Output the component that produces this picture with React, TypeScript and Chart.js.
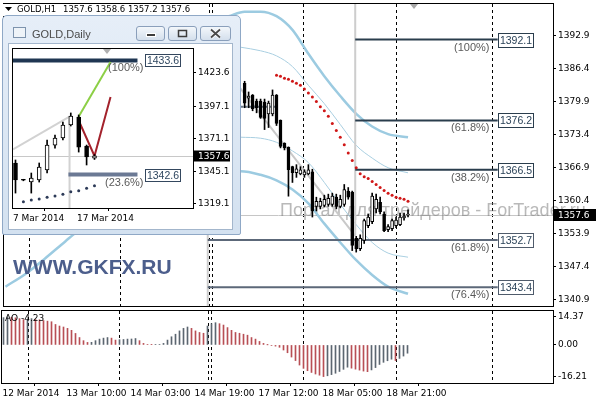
import React, { useEffect, useRef } from "react";
import { Chart, registerables } from "chart.js";

Chart.register(...registerables);

const AXIS_FONT = '"DejaVu Sans", "Liberation Sans", sans-serif';
const SANS = '"Liberation Sans", Arial, sans-serif';

// ================= GOLD,H1 main panel =================
const H1_TITLE = "GOLD,H1";
const H1_OHLC_TEXT = "1357.6 1358.6 1357.2 1357.6";
const LAST_PRICE = 1357.6;
const WATERMARK = "Портал для трейдеров - ForTrader.ru";
const BRAND = "WWW.GKFX.RU";

const H1_IDX = [60, 61, 62, 63, 64, 65, 66, 67, 68, 69, 70, 71, 72, 73, 74, 75, 76, 77, 78, 79, 80, 81, 82, 83, 84, 85, 86, 87, 88, 89, 90, 91, 92, 93, 94, 95, 96, 97, 98, 99, 100, 101];
const H1_OPEN = [1383.5, 1380.6, 1381.2, 1380.0, 1380.0, 1379.8, 1377.5, 1377.5, 1381.2, 1376.2, 1371.7, 1370.9, 1367.1, 1365.9, 1365.7, 1365.5, 1365.7, 1366.1, 1359.3, 1359.3, 1359.5, 1359.7, 1359.7, 1361.1, 1359.3, 1359.7, 1362.3, 1362.1, 1353.0, 1351.0, 1352.6, 1355.5, 1356.3, 1358.8, 1360.1, 1357.8, 1354.7, 1354.9, 1355.5, 1355.7, 1357.0, 1357.6];
const H1_HIGH = [1383.9, 1381.8, 1381.3, 1380.4, 1380.4, 1380.4, 1380.0, 1382.2, 1381.3, 1376.3, 1371.8, 1371.0, 1367.2, 1367.5, 1367.1, 1366.5, 1367.5, 1366.6, 1361.1, 1360.9, 1361.5, 1361.7, 1361.9, 1361.7, 1361.5, 1363.6, 1363.0, 1362.3, 1353.4, 1353.7, 1356.8, 1357.8, 1361.9, 1361.7, 1361.1, 1358.2, 1355.7, 1356.8, 1357.2, 1358.0, 1358.0, 1358.6];
const H1_LOW = [1378.7, 1378.7, 1378.1, 1377.7, 1376.6, 1374.4, 1374.8, 1377.1, 1375.2, 1370.8, 1370.4, 1361.3, 1364.0, 1365.0, 1365.5, 1365.0, 1365.5, 1357.2, 1358.4, 1358.8, 1359.2, 1359.3, 1359.3, 1358.8, 1359.0, 1359.3, 1360.7, 1350.6, 1350.3, 1350.6, 1352.0, 1355.1, 1355.9, 1358.0, 1357.8, 1354.3, 1354.3, 1354.5, 1355.1, 1355.5, 1356.6, 1357.2];
const H1_CLOSE = [1379.6, 1381.0, 1378.5, 1378.7, 1376.8, 1376.6, 1379.6, 1381.2, 1375.6, 1371.1, 1370.8, 1366.5, 1365.9, 1366.7, 1366.5, 1366.1, 1366.5, 1358.4, 1360.3, 1360.3, 1360.7, 1360.9, 1361.3, 1359.3, 1360.7, 1362.6, 1361.1, 1351.6, 1351.0, 1353.0, 1356.5, 1357.2, 1361.3, 1360.7, 1358.2, 1354.5, 1355.3, 1356.5, 1356.6, 1357.2, 1357.4, 1357.6];

// Bollinger-style bands (outer = thick, inner = thin)
const UP_OUTER_IDX = [56, 60, 64, 68, 72, 76, 80, 84, 88, 92, 96, 101];
const UP_OUTER = [1396.7, 1397.6, 1397.6, 1396.7, 1394.0, 1389.3, 1384.9, 1381.0, 1377.5, 1375.0, 1373.5, 1372.9];
const LO_OUTER_IDX = [0, 5, 10, 15, 18, 59, 64, 68, 72, 76, 80, 84, 88, 92, 96, 101];
const LO_OUTER = [1343.5, 1346.0, 1349.1, 1352.4, 1354.3, 1366.2, 1365.5, 1364.4, 1362.6, 1359.9, 1355.9, 1352.2, 1348.7, 1345.8, 1343.5, 1342.1];
const INNER_IDX = [59, 64, 68, 72, 76, 80, 84, 88, 92, 96, 101];
const UP_INNER = [1390.6, 1389.9, 1388.9, 1386.8, 1383.1, 1379.5, 1375.4, 1371.3, 1368.8, 1366.9, 1365.9];
const LO_INNER = [1372.9, 1372.7, 1371.9, 1370.2, 1367.9, 1364.0, 1359.7, 1355.7, 1352.2, 1350.1, 1349.3];

// red dotted indicator
const RED_DOT_IDX = [68, 69, 70, 71, 72, 73, 74, 75, 76, 77, 78, 79, 80, 81, 82, 83, 84, 85, 86, 87, 88, 89, 90, 91, 92, 93, 94, 95, 96, 97, 98, 99, 100, 101];
const RED_DOTS = [1385.1, 1384.9, 1384.5, 1384.3, 1383.9, 1383.5, 1383.1, 1382.4, 1381.6, 1380.8, 1379.9, 1378.9, 1378.1, 1377.0, 1375.6, 1374.2, 1372.9, 1371.4, 1369.8, 1368.3, 1366.9, 1365.7, 1365.1, 1364.8, 1364.2, 1363.6, 1363.0, 1362.4, 1361.9, 1361.5, 1361.1, 1360.9, 1360.7, 1360.3];

// Fibonacci levels
const FIB_UPPER = [1392.1, 1376.2, 1366.5];
const FIB_UPPER_PCT = ["(100%)", "(61.8%)", "(38.2%)"];
const FIB_UPPER_START = 87.75;
const FIB_LOWER = [1352.7, 1343.4];
const FIB_LOWER_PCT = ["(61.8%)", "(76.4%)"];
const FIB_LOWER_START = 50.75;
const FIB_END = 123.5;
const FIB_TREND_IDX = [49.4, 87.75];
const FIB_TREND = [1392.1, 1353.5];
const ANCHOR_UPPER_IDX = 87.75;
const ANCHOR_UPPER = [1399.1, 1353.5];
const ANCHOR_LOWER_IDX = 50.75;
const ANCHOR_LOWER = [1366.0, 1339.7];
const SLATE_SEG_IDX = [59, 68];
const SLATE_SEG = 1378.9;

const SEPARATORS = [6, 28.75, 51, 51.75, 74.75, 98, 122];
const SHIFT_MARK = 102.5;

const PRICE_MIN = 1339.7;
const PRICE_MAX = 1399.1;
const PRICE_TICKS = [1340.9, 1347.4, 1353.9, 1360.4, 1366.9, 1373.4, 1379.9, 1386.4, 1392.9];

const X_MIN = -0.375;
const X_MAX = 137.375;
const X_TICK_POS = [-0.25, 15.75, 31.75, 47.75, 63.75, 79.75, 95.75];
const X_TICK_LABELS = ["12 Mar 2014", "13 Mar 10:00", "14 Mar 03:00", "14 Mar 19:00", "17 Mar 12:00", "18 Mar 05:00", "18 Mar 21:00"];

// ================= AO panel =================
const AO_LABEL = "AO -4.23";
const AO_VALUES = [
  14.0, 14.37, 14.2, 13.9, 13.5, 13.0, 13.1, 13.5, 13.0, 12.9,
  12.5, 12.2, 11.9, 10.5, 9.7, 9.2, 8.5, 7.5, 5.9, 3.8,
  2.2, 1.3, 1.35, 2.2, 3.0, 3.5, 3.8, 3.5, 2.5, 2.7,
  2.8, 3.0, 3.05, 3.3, 2.2, 0.8, 0.2, 0.15, 0.2, 0.3,
  0.8, 2.5, 4.2, 5.5, 7.2, 8.5, 9.2, 8.5, 7.2, 6.4,
  6.0, 9.7, 10.9, 11.4, 10.9, 10.2, 8.9, 7.5, 6.4, 6.0,
  5.5, 5.0, 3.8, 3.0, 1.8, 0.8, 0.05, -0.3, -0.6, -1.2,
  -2.6, -4.0, -6.2, -8.0, -10.3, -12.0, -13.2, -14.1, -14.9, -15.5,
  -16.21, -15.8, -15.2, -14.5, -13.6, -12.5, -11.4, -11.9, -12.4, -12.9,
  -13.4, -13.7, -12.8, -11.6, -10.0, -8.9, -8.1, -7.3, -8.0, -6.9,
  -5.7, -4.23,
];
const AO_MIN = -19.5;
const AO_MAX = 17.4;
const AO_TICKS = [-16.21, 0, 14.37];

// ================= GOLD,Daily inset =================
const D_TITLE = "GOLD,Daily";
const D_IDX = [0, 1, 2, 3, 4, 5, 6, 7, 8, 9, 10];
const D_OPEN = [1351.8, 1338.4, 1336.6, 1338.2, 1346.2, 1366.1, 1371.7, 1382.1, 1388.5, 1365.3, 1355.6];
const D_HIGH = [1354.2, 1338.8, 1343.8, 1351.8, 1370.1, 1374.1, 1384.5, 1391.7, 1390.1, 1366.1, 1358.6];
const D_LOW = [1327.8, 1337.6, 1327.8, 1336.6, 1343.8, 1363.7, 1370.1, 1381.3, 1360.5, 1350.2, 1354.6];
const D_CLOSE = [1338.2, 1338.0, 1339.8, 1348.6, 1366.1, 1371.7, 1382.1, 1389.3, 1364.5, 1356.6, 1357.6];
const D_DOT_IDX = [1, 2, 3, 4, 5, 6, 7, 8, 9, 10];
const D_DOTS = [1320.9, 1322.2, 1323.0, 1324.4, 1325.4, 1326.8, 1328.9, 1329.7, 1331.6, 1333.7];
const D_FIB = [1433.6, 1342.6];
const D_FIB_PCT = ["(100%)", "(23.6%)"];
const D_FIB_START = [-0.316, 6.7];
const D_FIB_END = 15.44;
const D_ANCHOR_IDX = 6.84;
const D_ANCHOR = [1388.7, 1315.9];
const D_TREND_IDX = [-0.316, 6.84];
const D_TREND = [1362.7, 1388.7];
const D_GREEN_IDX = [7.97, 12.03];
const D_GREEN = [1388.5, 1432.3];
const D_RED_IDX = [7.97, 10, 12.03];
const D_RED = [1386.1, 1357.4, 1404.4];
const D_SHIFT_MARK = 11.6;
const D_MIN = 1315.9;
const D_MAX = 1442.7;
const D_TICKS = [1319.1, 1345.1, 1371.1, 1397.1, 1423.6];
const D_X_MIN = -0.316;
const D_X_MAX = 22.469;
const D_TICK_POS = [-0.316, 7.78];
const D_TICK_LABELS = ["7 Mar 2014", "17 Mar 2014"];

// ================= helpers =================
const pts = (xs: number[], ys: number[]) => xs.map((x, k) => ({ x, y: ys[k] }));
const line = (data: any[], color: string, width: number, order: number, extra: any = {}) => ({
  type: "line",
  data,
  borderColor: color,
  borderWidth: width,
  pointRadius: 0,
  fill: false,
  order,
  ...extra,
});

function drawFibLabels(ctx: any, xs: any, ys: any, levels: number[], pcts: string[], endIdx: number, o: any) {
  const bx = Math.round(xs.getPixelForValue(endIdx)) + o.gap + 0.5;
  levels.forEach((v, k) => {
    const py = Math.round(ys.getPixelForValue(v));
    const top = py - Math.floor(o.h / 2) + 0.5;
    ctx.fillStyle = "#ffffff";
    ctx.fillRect(bx, top, o.w, o.h);
    ctx.strokeStyle = o.boxColor;
    ctx.lineWidth = 1;
    ctx.strokeRect(bx, top, o.w, o.h);
    ctx.fillStyle = o.textColor;
    ctx.font = o.font;
    ctx.textAlign = "center";
    ctx.textBaseline = "middle";
    ctx.fillText(v.toFixed(1), bx + o.w / 2, top + o.h / 2 + 0.5);
    ctx.fillStyle = "#5a5a5a";
    ctx.font = o.pctFont;
    ctx.textAlign = "right";
    ctx.fillText(pcts[k], bx - o.pctGap, py + o.pctDy);
  });
}

function priceTag(ctx: any, a: any, ys: any, value: number, w: number, h: number) {
  const py = Math.round(ys.getPixelForValue(value));
  ctx.fillStyle = "#000";
  ctx.fillRect(a.right + 1, py - h / 2, w, h);
  ctx.fillStyle = "#fff";
  ctx.font = `9px ${AXIS_FONT}`;
  ctx.textAlign = "left";
  ctx.textBaseline = "middle";
  ctx.fillText(value.toFixed(1), a.right + 5, py + 0.5);
}

function shiftTriangle(ctx: any, px: number, top: number, color: string) {
  ctx.fillStyle = color;
  ctx.beginPath();
  ctx.moveTo(px - 4, top);
  ctx.lineTo(px + 4, top);
  ctx.lineTo(px, top + 5);
  ctx.closePath();
  ctx.fill();
}

function separators(chart: any) {
  const { ctx, chartArea: a, scales } = chart;
  ctx.save();
  ctx.strokeStyle = "#000";
  ctx.lineWidth = 1;
  ctx.setLineDash([3, 3]);
  SEPARATORS.forEach((v) => {
    const px = Math.round(scales.x.getPixelForValue(v)) + 0.5;
    ctx.beginPath();
    ctx.moveTo(px, a.top);
    ctx.lineTo(px, a.bottom);
    ctx.stroke();
  });
  ctx.restore();
}

const yAxis = (min: number, max: number, ticks: number[], width: number, digits: number) => ({
  type: "linear",
  position: "right",
  min,
  max,
  beginAtZero: false,
  afterBuildTicks: (s: any) => {
    s.ticks = ticks.map((value) => ({ value }));
  },
  afterFit: (s: any) => {
    s.width = width;
    s.paddingTop = 0;
    s.paddingBottom = 0;
  },
  ticks: {
    autoSkip: false,
    padding: 2,
    color: "#000",
    font: { family: AXIS_FONT, size: 9 },
    callback: (v: any) => Number(v).toFixed(digits),
  },
  grid: { drawOnChartArea: false, drawTicks: true, tickLength: 3, color: "#000" },
  border: { display: false },
});

const xAxis = (min: number, max: number, pos: number[], labels: string[], height: number, show: boolean) => ({
  type: "linear",
  min,
  max,
  offset: false,
  display: show,
  afterBuildTicks: (s: any) => {
    s.ticks = pos.map((value) => ({ value }));
  },
  afterFit: (s: any) => {
    if (show) s.height = height;
    s.paddingLeft = 0;
    s.paddingRight = 0;
  },
  ticks: {
    align: "start",
    autoSkip: false,
    maxRotation: 0,
    minRotation: 0,
    padding: 2,
    color: "#000",
    font: { family: AXIS_FONT, size: 9 },
    callback: (_v: any, i: number) => labels[i],
  },
  grid: { drawOnChartArea: false, drawTicks: true, tickLength: 3, color: "#000" },
  border: { display: false },
});

const baseOptions = {
  animation: false,
  responsive: false,
  devicePixelRatio: 1,
  events: [],
  plugins: { legend: { display: false }, tooltip: { enabled: false } },
};

function mainConfig(): any {
  const bodies = H1_IDX.map((x, k) => ({ x, y: [H1_OPEN[k], H1_CLOSE[k]] }));
  const wicks = H1_IDX.map((x, k) => ({ x, y: [H1_LOW[k], H1_HIGH[k]] }));
  const fill = H1_IDX.map((_, k) => (H1_CLOSE[k] >= H1_OPEN[k] ? "#ffffff" : "#000000"));
  const BAND = "#9ccbe1";
  const datasets: any[] = [
    { type: "bar", data: bodies, backgroundColor: fill, borderColor: "#000", borderWidth: 1, borderSkipped: false, barThickness: 3, grouped: false, minBarLength: 1, order: 0 },
    { type: "bar", data: wicks, backgroundColor: "#000", borderWidth: 0, barThickness: 1, grouped: false, order: 1 },
    { type: "line", data: pts(RED_DOT_IDX, RED_DOTS), showLine: false, pointRadius: 1.5, pointBackgroundColor: "#d01818", pointBorderWidth: 0, order: 2 },
    ...FIB_UPPER.map((v) => line([{ x: FIB_UPPER_START, y: v }, { x: FIB_END, y: v }], "#2a3d4d", 2, 3)),
    ...FIB_LOWER.map((v) => line([{ x: FIB_LOWER_START, y: v }, { x: FIB_END, y: v }], "#5c6879", 2, 3)),
    line(pts(SLATE_SEG_IDX, [SLATE_SEG, SLATE_SEG]), "#6a7889", 2, 3, { borderDash: [3, 1] }),
    line(pts(FIB_TREND_IDX, FIB_TREND), "#c9c9c9", 2, 4),
    line(pts([ANCHOR_UPPER_IDX, ANCHOR_UPPER_IDX], ANCHOR_UPPER), "#cdcdcd", 2, 4),
    line(pts([ANCHOR_LOWER_IDX, ANCHOR_LOWER_IDX], ANCHOR_LOWER), "#cdcdcd", 2, 4),
    line(pts(UP_OUTER_IDX, UP_OUTER), BAND, 2.5, 5, { cubicInterpolationMode: "monotone" }),
    line(pts(LO_OUTER_IDX, LO_OUTER), BAND, 2.5, 5, { cubicInterpolationMode: "monotone" }),
    line(pts(INNER_IDX, UP_INNER), "#a9cfe1", 1, 5, { cubicInterpolationMode: "monotone" }),
    line(pts(INNER_IDX, LO_INNER), "#a9cfe1", 1, 5, { cubicInterpolationMode: "monotone" }),
  ];
  return {
    type: "bar",
    data: { datasets },
    options: {
      ...baseOptions,
      layout: { padding: { left: 2, top: 1, right: 0, bottom: 1 } },
      scales: {
        x: xAxis(X_MIN, X_MAX, X_TICK_POS, X_TICK_LABELS, 0, false),
        y: yAxis(PRICE_MIN, PRICE_MAX, PRICE_TICKS, 43, 1),
      },
    },
    plugins: [
      {
        id: "mainDeco",
        beforeDatasetsDraw(chart: any) {
          const { ctx, chartArea: a, scales } = chart;
          separators(chart);
          ctx.save();
          const py = Math.round(scales.y.getPixelForValue(LAST_PRICE)) + 0.5;
          ctx.strokeStyle = "#c6c6c6";
          ctx.lineWidth = 1;
          ctx.beginPath();
          ctx.moveTo(a.left, py);
          ctx.lineTo(a.right, py);
          ctx.stroke();
          ctx.font = `18px ${SANS}`;
          ctx.fillStyle = "rgba(115,115,115,0.5)";
          ctx.textAlign = "left";
          ctx.textBaseline = "alphabetic";
          ctx.fillText(WATERMARK, 280, 216);
          ctx.restore();
        },
        afterDraw(chart: any) {
          const { ctx, chartArea: a, scales } = chart;
          ctx.save();
          ctx.strokeStyle = "#000";
          ctx.lineWidth = 1;
          ctx.strokeRect(a.left - 0.5, a.top - 0.5, a.right - a.left + 1, a.bottom - a.top + 1);
          const fibStyle = { w: 35, h: 14, gap: 0, boxColor: "#2a3d4d", textColor: "#2a4258", font: `10.5px ${SANS}`, pctFont: `11px ${SANS}`, pctGap: 9, pctDy: 8 };
          drawFibLabels(ctx, scales.x, scales.y, FIB_UPPER, FIB_UPPER_PCT, FIB_END, fibStyle);
          drawFibLabels(ctx, scales.x, scales.y, FIB_LOWER, FIB_LOWER_PCT, FIB_END, { ...fibStyle, boxColor: "#4f5b6b" });
          priceTag(ctx, a, scales.y, LAST_PRICE, 43, 12);
          shiftTriangle(ctx, Math.round(scales.x.getPixelForValue(SHIFT_MARK)), a.top, "#a8a8a8");
          // title
          ctx.font = `8.5px ${AXIS_FONT}`;
          const titleW = 63 + ctx.measureText(H1_OHLC_TEXT).width;
          ctx.fillStyle = "#fff";
          ctx.fillRect(3, 4, titleW - 1, 12);
          ctx.fillStyle = "#000";
          ctx.beginPath();
          ctx.moveTo(5, 7);
          ctx.lineTo(12, 7);
          ctx.lineTo(8.5, 11);
          ctx.closePath();
          ctx.fill();
          ctx.textAlign = "left";
          ctx.textBaseline = "middle";
          ctx.fillText(H1_TITLE, 17, 10);
          ctx.fillText(H1_OHLC_TEXT, 63, 10);
          // brand
          ctx.font = `bold 21px ${SANS}`;
          ctx.fillStyle = "#4c5e8c";
          ctx.textBaseline = "alphabetic";
          ctx.fillText(BRAND, 13, 274);
          ctx.restore();
        },
      },
    ],
  };
}

function aoConfig(): any {
  const colors = AO_VALUES.map((v, k) => (k === 0 || v >= AO_VALUES[k - 1] ? "#5c6670" : "#b84f55"));
  return {
    type: "bar",
    data: {
      datasets: [
        {
          type: "bar",
          data: AO_VALUES.map((y, x) => ({ x, y })),
          backgroundColor: colors,
          borderWidth: 0,
          barThickness: 1,
          grouped: false,
        },
      ],
    },
    options: {
      ...baseOptions,
      layout: { padding: { left: 2, top: 1, right: 0, bottom: 0 } },
      scales: {
        x: xAxis(X_MIN, X_MAX, X_TICK_POS, X_TICK_LABELS, 17, true),
        y: yAxis(AO_MIN, AO_MAX, AO_TICKS, 43, 2),
      },
    },
    plugins: [
      {
        id: "aoDeco",
        beforeDatasetsDraw(chart: any) {
          separators(chart);
        },
        afterDraw(chart: any) {
          const { ctx, chartArea: a } = chart;
          ctx.save();
          ctx.strokeStyle = "#000";
          ctx.lineWidth = 1;
          ctx.strokeRect(a.left - 0.5, a.top - 0.5, a.right - a.left + 1, a.bottom - a.top + 1);
          ctx.fillStyle = "#000";
          ctx.font = `9px ${AXIS_FONT}`;
          ctx.textAlign = "left";
          ctx.textBaseline = "middle";
          ctx.fillText(AO_LABEL, a.left + 3, a.top + 8);
          ctx.restore();
        },
      },
    ],
  };
}

function insetConfig(): any {
  const bodies = D_IDX.map((x, k) => ({ x, y: [D_OPEN[k], D_CLOSE[k]] }));
  const wicks = D_IDX.map((x, k) => ({ x, y: [D_LOW[k], D_HIGH[k]] }));
  const fill = D_IDX.map((_, k) => (D_CLOSE[k] >= D_OPEN[k] ? "#ffffff" : "#000000"));
  return {
    type: "bar",
    data: {
      datasets: [
        { type: "bar", data: bodies, backgroundColor: fill, borderColor: "#000", borderWidth: 1, borderSkipped: false, barThickness: 4, grouped: false, minBarLength: 1, order: 0 },
        { type: "bar", data: wicks, backgroundColor: "#000", borderWidth: 0, barThickness: 1, grouped: false, order: 1 },
        line(pts(D_GREEN_IDX, D_GREEN), "#8ccf45", 2, 2),
        line(pts(D_RED_IDX, D_RED), "#a3222c", 2, 2),
        { type: "line", data: pts(D_DOT_IDX, D_DOTS), showLine: false, pointRadius: 1.5, pointBackgroundColor: "#2c3a57", pointBorderWidth: 0, order: 2 },
        line([{ x: D_FIB_START[0], y: D_FIB[0] }, { x: D_FIB_END, y: D_FIB[0] }], "#1f3652", 4, 3),
        line([{ x: D_FIB_START[1], y: D_FIB[1] }, { x: D_FIB_END, y: D_FIB[1] }], "#6b7994", 4, 3),
        line(pts(D_TREND_IDX, D_TREND), "#d2d2d2", 2, 4),
        line(pts([D_ANCHOR_IDX, D_ANCHOR_IDX], D_ANCHOR), "#d2d2d2", 2, 4),
      ],
    },
    options: {
      ...baseOptions,
      layout: { padding: { left: 4, top: 5, right: 0, bottom: 0 } },
      scales: {
        x: xAxis(D_X_MIN, D_X_MAX, D_TICK_POS, D_TICK_LABELS, 21, true),
        y: yAxis(D_MIN, D_MAX, D_TICKS, 39, 1),
      },
    },
    plugins: [
      {
        id: "insetDeco",
        beforeDatasetsDraw(chart: any) {
          const { ctx, chartArea: a, scales } = chart;
          ctx.save();
          const py = Math.round(scales.y.getPixelForValue(LAST_PRICE)) + 0.5;
          ctx.strokeStyle = "#c8c8c8";
          ctx.lineWidth = 1;
          ctx.beginPath();
          ctx.moveTo(a.left, py);
          ctx.lineTo(a.right, py);
          ctx.stroke();
          ctx.restore();
        },
        afterDraw(chart: any) {
          const { ctx, chartArea: a, scales } = chart;
          ctx.save();
          ctx.strokeStyle = "#000";
          ctx.lineWidth = 1;
          ctx.strokeRect(a.left - 0.5, a.top - 0.5, a.right - a.left + 1, a.bottom - a.top + 1);
          drawFibLabels(ctx, scales.x, scales.y, D_FIB, D_FIB_PCT, D_FIB_END, {
            w: 35, h: 12, gap: 8, boxColor: "#34475e", textColor: "#2f4760", font: `10.5px ${SANS}`, pctFont: `11px ${SANS}`, pctGap: 2, pctDy: 8,
          });
          priceTag(ctx, a, scales.y, LAST_PRICE, 36, 11);
          shiftTriangle(ctx, Math.round(scales.x.getPixelForValue(D_SHIFT_MARK)), a.top, "#b0b0b0");
          ctx.restore();
        },
      },
    ],
  };
}

const btn: React.CSSProperties = {
  position: "absolute",
  top: 10,
  height: 15,
  boxSizing: "border-box",
  border: "1px solid #8a9fbb",
  borderRadius: 3,
  background: "linear-gradient(#f3f7fb, #d4dfec)",
};

export default function App() {
  const mainRef = useRef<HTMLCanvasElement>(null);
  const aoRef = useRef<HTMLCanvasElement>(null);
  const insetRef = useRef<HTMLCanvasElement>(null);

  useEffect(() => {
    const charts = [
      new Chart(mainRef.current as HTMLCanvasElement, mainConfig()),
      new Chart(aoRef.current as HTMLCanvasElement, aoConfig()),
      new Chart(insetRef.current as HTMLCanvasElement, insetConfig()),
    ];
    return () => charts.forEach((c) => c.destroy());
  }, []);

  return (
    <div style={{ position: "fixed", left: 0, top: 0, width: 596, height: 400, background: "#fff", overflow: "hidden" }}>
      <canvas ref={mainRef} width={596} height={310} style={{ position: "absolute", left: 0, top: 0, width: 596, height: 310 }} />
      <canvas ref={aoRef} width={596} height={90} style={{ position: "absolute", left: 0, top: 310, width: 596, height: 90 }} />
      <div
        style={{
          position: "absolute",
          left: 2,
          top: 15,
          width: 239,
          height: 220,
          boxSizing: "border-box",
          border: "1px solid #8fa8c6",
          borderRadius: "5px 5px 2px 2px",
          background: "linear-gradient(#e6eef8, #d3e1f0)",
        }}
      >
        <div style={{ position: "absolute", left: 10, top: 11, width: 13, height: 11, boxSizing: "border-box", border: "1px solid #7d93ad", background: "#eef3f8" }} />
        <div style={{ position: "absolute", left: 29, top: 11, font: `11px ${SANS}`, color: "#4a4a4a", lineHeight: "14px", whiteSpace: "nowrap" }}>{D_TITLE}</div>
        <div style={{ ...btn, left: 133, width: 29 }}>
          <svg width="27" height="13" style={{ position: "absolute", left: 0, top: 0 }}>
            <rect x="9.5" y="6.5" width="9" height="3" fill="#3c3c3c" stroke="#fff" strokeWidth="1" />
          </svg>
        </div>
        <div style={{ ...btn, left: 165, width: 29 }}>
          <svg width="27" height="13" style={{ position: "absolute", left: 0, top: 0 }}>
            <rect x="9.5" y="3.5" width="8" height="6" fill="none" stroke="#3c3c3c" strokeWidth="1.5" />
          </svg>
        </div>
        <div style={{ ...btn, left: 197, width: 31 }}>
          <svg width="29" height="13" style={{ position: "absolute", left: 0, top: 0 }}>
            <path d="M10 2.5 L19 10.5 M19 2.5 L10 10.5" stroke="#fff" strokeWidth="3.5" />
            <path d="M10 2.5 L19 10.5 M19 2.5 L10 10.5" stroke="#4a4a4a" strokeWidth="1.8" />
          </svg>
        </div>
        <div style={{ position: "absolute", left: 5, top: 27, width: 225, height: 187, boxSizing: "border-box", border: "1px solid #a3b6cc", background: "#fff" }}>
          <canvas ref={insetRef} width={223} height={185} style={{ position: "absolute", left: 0, top: 0, width: 223, height: 185 }} />
        </div>
      </div>
    </div>
  );
}
